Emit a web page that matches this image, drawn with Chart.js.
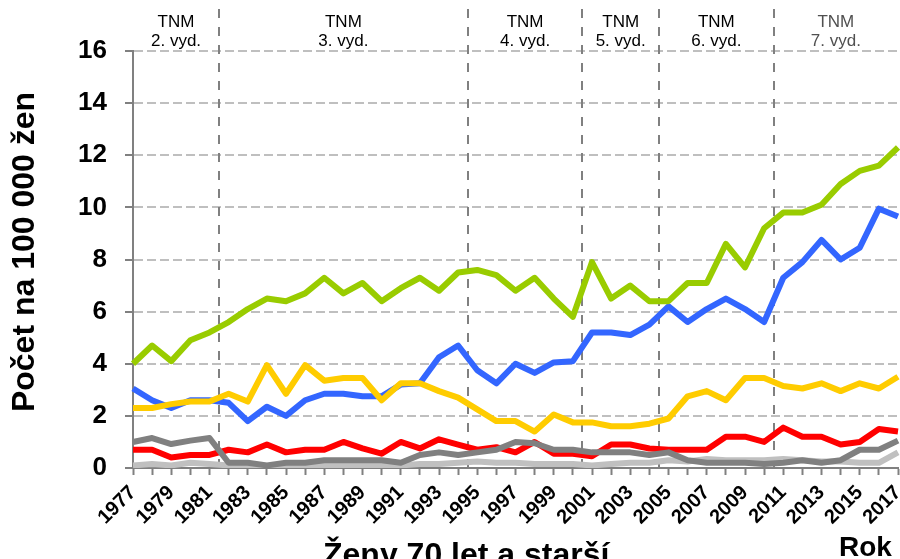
<!DOCTYPE html>
<html>
<head>
<meta charset="utf-8">
<script src="https://cdn.jsdelivr.net/npm/chart.js@4"></script>
<style>
html,body{margin:0;padding:0;background:#fff;}
canvas{display:block;}
</style>
</head>
<body>
<canvas id="c" width="900" height="559"></canvas>
<script>
// ---- data ----
const years = [1977,1978,1979,1980,1981,1982,1983,1984,1985,1986,1987,1988,1989,1990,1991,1992,1993,1994,1995,1996,1997,1998,1999,2000,2001,2002,2003,2004,2005,2006,2007,2008,2009,2010,2011,2012,2013,2014,2015,2016,2017];
const greenSeries = [4.0,4.7,4.1,4.9,5.2,5.6,6.1,6.5,6.4,6.7,7.3,6.7,7.1,6.4,6.9,7.3,6.8,7.5,7.6,7.4,6.8,7.3,6.5,5.8,7.9,6.5,7.0,6.4,6.4,7.1,7.1,8.6,7.7,9.2,9.8,9.8,10.1,10.9,11.4,11.6,12.3];
const blueSeries = [3.05,2.6,2.3,2.6,2.6,2.5,1.8,2.35,2.0,2.6,2.85,2.85,2.75,2.75,3.2,3.25,4.25,4.7,3.75,3.25,4.0,3.65,4.05,4.1,5.2,5.2,5.1,5.5,6.2,5.6,6.1,6.5,6.1,5.6,7.3,7.9,8.75,8.0,8.45,9.95,9.65];
const yellowSeries = [2.3,2.3,2.45,2.55,2.55,2.85,2.55,3.95,2.85,3.95,3.35,3.45,3.45,2.6,3.25,3.25,2.95,2.7,2.25,1.8,1.8,1.4,2.05,1.75,1.75,1.6,1.6,1.7,1.9,2.75,2.95,2.6,3.45,3.45,3.15,3.05,3.25,2.95,3.25,3.05,3.5];
const redSeries = [0.7,0.7,0.4,0.5,0.5,0.7,0.6,0.9,0.6,0.7,0.7,1.0,0.75,0.55,1.0,0.75,1.1,0.9,0.7,0.8,0.6,1.0,0.55,0.55,0.45,0.9,0.9,0.75,0.7,0.7,0.7,1.2,1.2,1.0,1.55,1.2,1.2,0.9,1.0,1.5,1.4];
const darkGraySeries = [1.0,1.15,0.92,1.05,1.15,0.2,0.2,0.1,0.2,0.2,0.3,0.3,0.3,0.3,0.2,0.5,0.6,0.5,0.6,0.7,1.0,0.95,0.7,0.7,0.6,0.6,0.6,0.5,0.6,0.3,0.2,0.2,0.2,0.15,0.2,0.3,0.2,0.3,0.7,0.7,1.05];
const lightGraySeries = [0.1,0.15,0.1,0.2,0.15,0.1,0.05,0.05,0.05,0.05,0.1,0.1,0.1,0.1,0.1,0.15,0.15,0.2,0.25,0.2,0.2,0.15,0.15,0.15,0.1,0.15,0.2,0.2,0.3,0.25,0.35,0.3,0.3,0.3,0.35,0.3,0.25,0.25,0.2,0.2,0.6];
const yTicks = [0,2,4,6,8,10,12,14,16];
const editionBoundaries = [1981.5,1994.5,2000.5,2004.5,2010.5];
const editionLabels = ['2. vyd.','3. vyd.','4. vyd.','5. vyd.','6. vyd.','7. vyd.'];
const editionPrefix = 'TNM';
const yTitle = 'Počet na 100 000 žen';
const xTitle = 'Rok';
const subTitle = 'Ženy 70 let a starší';

const FONT = '"Liberation Sans", Arial, Helvetica, sans-serif';

const overlay = {
  id: 'overlay',
  beforeDatasetsDraw(chart) {
    const {ctx, chartArea, scales: {x}} = chart;
    ctx.save();
    ctx.strokeStyle = '#808080';
    ctx.lineWidth = 2;
    ctx.setLineDash([9, 9]);
    editionBoundaries.forEach(b => {
      const px = Math.round(x.getPixelForValue(b - years[0]));
      ctx.beginPath();
      ctx.moveTo(px, 9);
      ctx.lineTo(px, chartArea.bottom);
      ctx.stroke();
    });
    ctx.restore();
  },
  afterDraw(chart) {
    const {ctx, chartArea, scales: {x}} = chart;
    ctx.save();
    const edges = [years[0]].concat(editionBoundaries, [years[years.length - 1]]);
    ctx.font = '17px ' + FONT;
    ctx.textAlign = 'center';
    ctx.textBaseline = 'alphabetic';
    editionLabels.forEach((lab, i) => {
      const mid = (edges[i] + edges[i + 1]) / 2;
      const px = x.getPixelForValue(mid - years[0]);
      ctx.fillStyle = i === editionLabels.length - 1 ? '#505050' : '#000';
      ctx.fillText(editionPrefix, px, 27);
      ctx.fillText(lab, px, 46);
    });
    ctx.fillStyle = '#000';
    ctx.font = 'bold 32px ' + FONT;
    ctx.save();
    ctx.translate(34, 252);
    ctx.rotate(-Math.PI / 2);
    ctx.textAlign = 'center';
    ctx.fillText(yTitle, 0, 0);
    ctx.restore();
    ctx.font = 'bold 32px ' + FONT;
    ctx.textAlign = 'left';
    ctx.fillText(subTitle, 323, 565);
    ctx.font = 'bold 28px ' + FONT;
    ctx.fillText(xTitle, 839, 556);
    ctx.restore();
  }
};

function ds(data, color) {
  return {data, borderColor: color, backgroundColor: color, borderWidth: 6,
          pointRadius: 0, tension: 0, fill: false, borderJoinStyle: 'round', borderCapStyle: 'butt'};
}

new Chart(document.getElementById('c'), {
  type: 'line',
  data: {
    labels: years,
    datasets: [
      ds(greenSeries, '#99CC00'),
      ds(yellowSeries, '#FFCC00'),
      ds(blueSeries, '#3366FF'),
      ds(darkGraySeries, '#808080'),
      ds(redSeries, '#FF0000'),
      ds(lightGraySeries, '#C0C0C0')
    ]
  },
  options: {
    responsive: false,
    animation: false,
    devicePixelRatio: 1,
    layout: {padding: {top: 51, right: 2, left: 0, bottom: 0}},
    plugins: {legend: {display: false}, tooltip: {enabled: false}, title: {display: false}},
    scales: {
      x: {
        type: 'category',
        offset: false,
        afterFit(scale) { scale.height = 91; scale.paddingLeft = 0; scale.paddingRight = 0; },
        grid: {display: true, drawOnChartArea: false, drawTicks: true, tickLength: 7, tickColor: '#808080', tickWidth: 2},
        border: {display: true, color: '#808080', width: 2},
        ticks: {
          autoSkip: false, maxRotation: 45, minRotation: 45, padding: 6,
          color: '#000', font: {family: FONT, size: 20, weight: 'bold'},
          callback(val, idx) { return idx % 2 === 0 ? String(years[idx]) : ''; }
        }
      },
      y: {
        min: 0, max: 16,
        afterFit(scale) { scale.width = 133; scale.paddingTop = 0; scale.paddingBottom = 0; },
        afterBuildTicks(scale) { scale.ticks = yTicks.map(v => ({value: v})); },
        grid: {color: '#BFBFBF', lineWidth: 2, drawTicks: true, tickLength: 8, tickColor: '#808080', tickWidth: 2, tickBorderDash: []},
        border: {display: true, color: '#808080', width: 2, dash: [9, 4]},
        ticks: {padding: 18, color: '#000', font: {family: FONT, size: 26, weight: 'bold'}}
      }
    }
  },
  plugins: [overlay]
});
</script>
</body>
</html>
